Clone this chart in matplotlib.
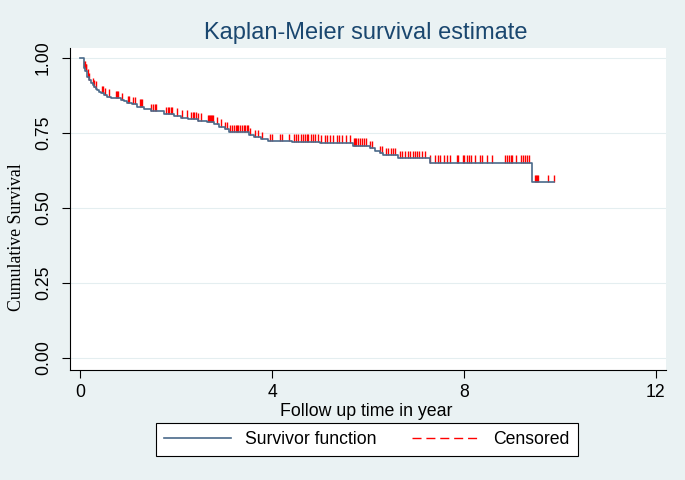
import matplotlib
matplotlib.use("Agg")
import matplotlib.pyplot as plt
from matplotlib.lines import Line2D
import numpy as np

# Kaplan-Meier step function (time in years, survival after the step)
step_t = [0, 0.08, 0.11, 0.15, 0.18, 0.22, 0.26, 0.29, 0.33, 0.36,
          0.40, 0.43, 0.50, 0.57, 0.64, 0.71, 0.85, 0.92, 0.98, 1.09,
          1.19, 1.33, 1.47, 1.75, 1.96, 2.11, 2.24, 2.45, 2.65, 2.80,
          2.90, 3.01, 3.11, 3.53, 3.63, 3.78, 3.91, 4.42, 4.99, 5.68,
          6.04, 6.14, 6.24, 6.31, 6.63, 7.29, 9.42, 9.88]
step_s = [1.0, 0.966, 0.955, 0.938, 0.927, 0.916, 0.910, 0.904, 0.898, 0.893,
          0.887, 0.882, 0.877, 0.871, 0.868, 0.866, 0.860, 0.857, 0.849, 0.845,
          0.838, 0.830, 0.824, 0.812, 0.808, 0.801, 0.797, 0.791, 0.786, 0.779,
          0.771, 0.762, 0.754, 0.743, 0.736, 0.730, 0.724, 0.721, 0.718, 0.708,
          0.700, 0.691, 0.684, 0.677, 0.666, 0.651, 0.587, 0.587]

# censoring times
cens_t = [0.09, 0.10, 0.12, 0.13, 0.16, 0.19, 0.27, 0.30, 0.34, 0.46, 0.48, 0.51,
          0.61, 0.74, 0.77, 0.80, 0.87, 0.99, 1.01, 1.11, 1.14, 1.24, 1.27, 1.29,
          1.48, 1.51, 1.57, 1.58, 1.80, 1.83, 1.86, 1.89, 1.92, 2.01, 2.13, 2.22,
          2.32, 2.35, 2.38, 2.41, 2.46, 2.52, 2.66, 2.68, 2.70, 2.72, 2.75, 2.77,
          2.86, 2.94, 3.02, 3.07, 3.13, 3.16, 3.20, 3.24, 3.27, 3.30, 3.34, 3.37,
          3.41, 3.44, 3.47, 3.50, 3.55, 3.64, 3.70, 3.79, 3.95, 3.99, 4.16, 4.20,
          4.35, 4.45, 4.50, 4.55, 4.60, 4.64, 4.68, 4.72, 4.76, 4.81, 4.86, 4.90,
          4.95, 5.03, 5.10, 5.14, 5.20, 5.27, 5.35, 5.40, 5.45, 5.55, 5.62, 5.70,
          5.73, 5.76, 5.80, 5.84, 5.88, 5.92, 5.96, 6.05, 6.09, 6.26, 6.29, 6.37,
          6.42, 6.47, 6.52, 6.56, 6.66, 6.70, 6.78, 6.83, 6.88, 6.93, 6.97, 7.02,
          7.07, 7.12, 7.18, 7.30, 7.40, 7.45, 7.50, 7.58, 7.65, 7.70, 7.85, 7.87,
          7.98, 8.01, 8.06, 8.10, 8.15, 8.22, 8.34, 8.38, 8.48, 8.58, 8.86, 8.89,
          8.93, 8.97, 9.00, 9.08, 9.18, 9.23, 9.27, 9.31, 9.36, 9.48, 9.50, 9.52,
          9.54, 9.75, 9.87]

x_ticks = [0, 4, 8, 12]
y_ticks = [0.0, 0.25, 0.5, 0.75, 1.0]
y_ticklabels = ["0.00", "0.25", "0.50", "0.75", "1.00"]

BG = "#eaf2f3"
NAVY = "#1a476f"
LINE_C = "#4a6a8a"
CENS_C = "#ff0000"

plt.rcParams.update({
    "font.family": "Liberation Sans",
    "font.size": 12.7,
})

fig = plt.figure(figsize=(6.85, 4.8), dpi=100, facecolor=BG)
ax = fig.add_axes([70 / 685, 1 - 370 / 480, 596 / 685, 322 / 480])
ax.set_facecolor("white")

st = np.array(step_t)
ss = np.array(step_s)
ax.step(st, ss, where="post", color=LINE_C, lw=1.2, zorder=3)

ct = np.array(cens_t)
idx = np.searchsorted(st, ct, side="right") - 1
cs = ss[idx]
ax.vlines(ct, cs, cs + 0.024, color=CENS_C, lw=1.0, zorder=2)

ax.set_xlim(-0.21, 12.21)
ax.set_ylim(-0.04, 1.033)
ax.set_xticks(x_ticks)
ax.set_yticks(y_ticks)
ax.set_yticklabels(y_ticklabels, rotation=90, va="center")
ax.tick_params(axis="both", direction="out", length=6, width=0.8,
               color="black", labelsize=12.7)
ax.tick_params(axis="y", pad=7)
ax.tick_params(axis="x", pad=4)
ax.grid(axis="y", color="#e4eef0", lw=0.8)
ax.set_axisbelow(True)
for side in ["top", "right"]:
    ax.spines[side].set_visible(False)
for side in ["left", "bottom"]:
    ax.spines[side].set_linewidth(0.8)

fig.text(366 / 685, 1 - 33 / 480, "Kaplan-Meier survival estimate",
         ha="center", va="center", fontsize=17, color=NAVY)
fig.text(366 / 685, 1 - 412 / 480, "Follow up time in year",
         ha="center", va="center", fontsize=12.8)
fig.text(17 / 685, 1 - 237 / 480, "Cumulative Survival", rotation=90,
         ha="center", va="center", fontsize=12.8, family="Liberation Serif")

handles = [Line2D([], [], color=LINE_C, lw=1.2),
           Line2D([], [], color=CENS_C, lw=1.0, ls=(0, (6.5, 3.5)))]
leg = fig.legend(handles, ["Survivor function", "Censored"], ncol=2,
                 loc="center", bbox_to_anchor=(367 / 685, 1 - 439.5 / 480),
                 fancybox=False, framealpha=1, edgecolor="black",
                 handlelength=3.8, columnspacing=2.0, fontsize=12.7,
                 borderpad=0.45, handletextpad=0.8)
leg.get_frame().set_linewidth(0.8)

fig.savefig("out.png", dpi=100, facecolor=BG)
